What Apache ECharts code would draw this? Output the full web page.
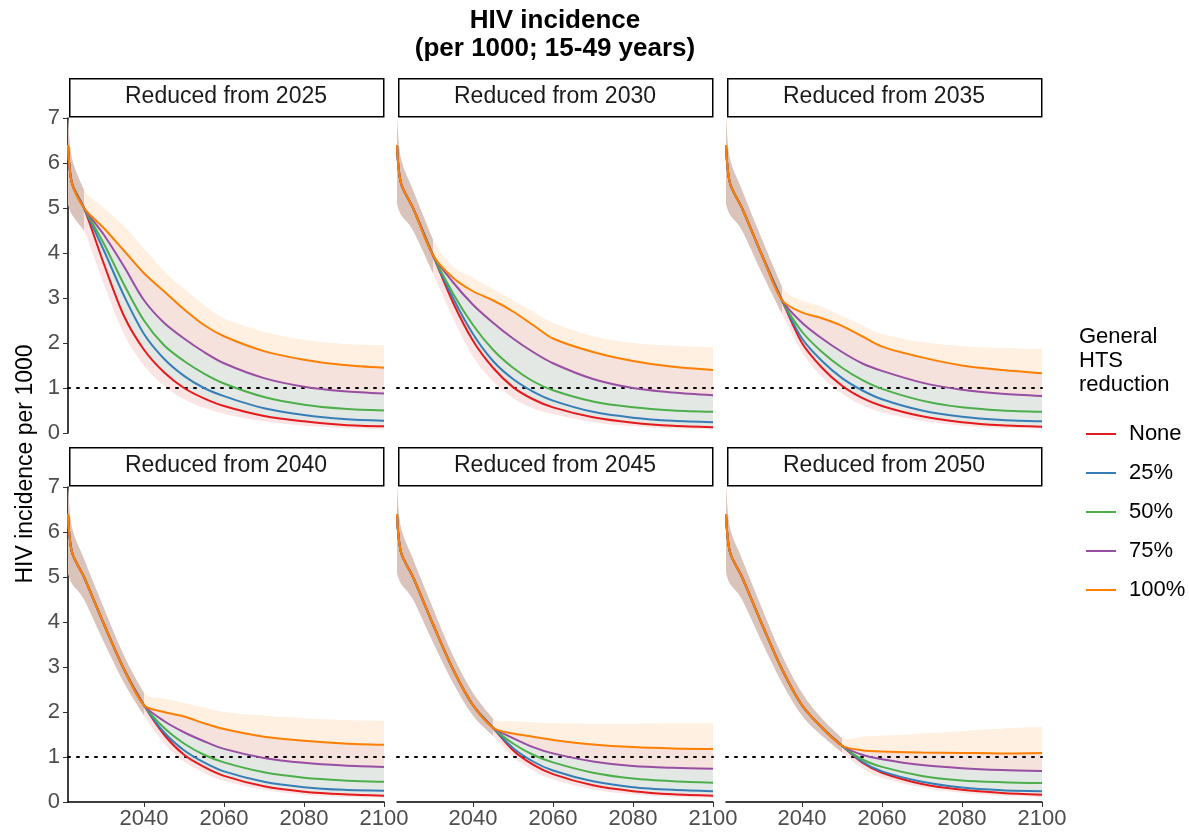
<!DOCTYPE html>
<html>
<head>
<meta charset="utf-8">
<script src="https://cdn.jsdelivr.net/npm/echarts@6/dist/echarts.min.js"></script>
<style>html,body{margin:0;padding:0;background:#fff}#main{width:1189px;height:836px}</style>
</head>
<body>
<div id="main"></div>
<script>
var years = [2021, 2022, 2025, 2030, 2035, 2040, 2045, 2050, 2055, 2060, 2070, 2080, 2090, 2100];
var scenarios = ['None', '25%', '50%', '75%', '100%'];
var colors = ['#E41A1C', '#377EB8', '#4DAF4A', '#984EA3', '#FF7F00'];
var startYears = [2025, 2030, 2035, 2040, 2045, 2050];

// shared trajectory before the reduction starts
var base = [6.4, 5.55, 5.0, 3.95, 2.95, 2.15, 1.65, 1.25];
var baseLo = [5.1, 4.85, 4.5, 3.55, 2.65, 1.92, 1.47, 1.1];
var baseHi = [7.0, 6.1, 5.4, 4.3, 3.25, 2.42, 1.85, 1.42];

// values after the reduction year: none, 25, 50, 75, 100, upper, lower
var post2025 = {
  none: [3.75, 2.6, 1.85, 1.35, 1.0, 0.77, 0.6, 0.38, 0.26, 0.18, 0.15],
  p25: [4.05, 3.05, 2.2, 1.65, 1.27, 1.0, 0.82, 0.55, 0.4, 0.31, 0.27],
  p50: [4.2, 3.3, 2.5, 1.95, 1.6, 1.32, 1.1, 0.8, 0.63, 0.54, 0.5],
  p75: [4.4, 3.7, 2.95, 2.45, 2.1, 1.8, 1.55, 1.22, 1.03, 0.93, 0.88],
  p100: [4.55, 4.05, 3.55, 3.15, 2.75, 2.4, 2.15, 1.82, 1.63, 1.51, 1.45],
  hi: [5.0, 4.6, 4.1, 3.6, 3.2, 2.85, 2.55, 2.25, 2.07, 1.98, 1.95],
  lo: [3.3, 2.2, 1.5, 1.05, 0.75, 0.56, 0.43, 0.26, 0.16, 0.11, 0.08]
};
var post2030 = {
  none: [2.9, 2.05, 1.45, 1.02, 0.75, 0.57, 0.35, 0.23, 0.16, 0.13],
  p25: [3.0, 2.2, 1.6, 1.2, 0.92, 0.72, 0.47, 0.34, 0.27, 0.24],
  p50: [3.1, 2.4, 1.85, 1.45, 1.15, 0.95, 0.7, 0.57, 0.5, 0.47],
  p75: [3.35, 2.85, 2.45, 2.1, 1.8, 1.55, 1.2, 1.0, 0.9, 0.84],
  p100: [3.45, 3.15, 2.95, 2.7, 2.4, 2.1, 1.8, 1.6, 1.47, 1.4],
  hi: [3.7, 3.45, 3.2, 2.95, 2.7, 2.45, 2.15, 2.0, 1.94, 1.91],
  lo: [2.55, 1.7, 1.15, 0.78, 0.55, 0.42, 0.24, 0.15, 0.1, 0.08]
};
var post2035 = {
  none: [2.0, 1.45, 1.05, 0.78, 0.6, 0.37, 0.24, 0.17, 0.14],
  p25: [2.1, 1.6, 1.22, 0.95, 0.75, 0.5, 0.36, 0.29, 0.26],
  p50: [2.25, 1.8, 1.45, 1.18, 0.98, 0.72, 0.57, 0.5, 0.47],
  p75: [2.45, 2.1, 1.8, 1.55, 1.38, 1.12, 0.96, 0.87, 0.82],
  p100: [2.68, 2.55, 2.38, 2.15, 1.92, 1.68, 1.5, 1.4, 1.33],
  hi: [2.95, 2.8, 2.6, 2.4, 2.2, 2.02, 1.93, 1.89, 1.87],
  lo: [1.8, 1.25, 0.88, 0.62, 0.46, 0.27, 0.16, 0.11, 0.09]
};
var post2040 = {
  none: [1.5, 1.05, 0.78, 0.58, 0.35, 0.23, 0.17, 0.14],
  p25: [1.55, 1.15, 0.88, 0.68, 0.45, 0.33, 0.27, 0.25],
  p50: [1.65, 1.3, 1.05, 0.88, 0.66, 0.54, 0.48, 0.45],
  p75: [1.8, 1.55, 1.35, 1.18, 0.98, 0.87, 0.81, 0.78],
  p100: [2.0, 1.9, 1.75, 1.62, 1.45, 1.36, 1.3, 1.27],
  hi: [2.3, 2.2, 2.1, 2.0, 1.92, 1.86, 1.82, 1.8],
  lo: [1.3, 0.9, 0.65, 0.47, 0.27, 0.16, 0.11, 0.09]
};
var post2045 = {
  none: [1.15, 0.83, 0.62, 0.37, 0.24, 0.17, 0.14],
  p25: [1.2, 0.9, 0.7, 0.46, 0.33, 0.27, 0.24],
  p50: [1.3, 1.05, 0.88, 0.65, 0.52, 0.46, 0.43],
  p75: [1.42, 1.22, 1.08, 0.9, 0.8, 0.76, 0.74],
  p100: [1.52, 1.45, 1.38, 1.28, 1.22, 1.19, 1.18],
  hi: [1.8, 1.77, 1.75, 1.74, 1.74, 1.75, 1.75],
  lo: [1.0, 0.7, 0.5, 0.28, 0.17, 0.11, 0.09]
};
var post2050 = {
  none: [0.88, 0.65, 0.4, 0.27, 0.2, 0.16],
  p25: [0.9, 0.68, 0.45, 0.32, 0.26, 0.24],
  p50: [0.95, 0.78, 0.58, 0.48, 0.44, 0.42],
  p75: [1.05, 0.95, 0.82, 0.75, 0.71, 0.69],
  p100: [1.15, 1.12, 1.1, 1.09, 1.08, 1.09],
  hi: [1.45, 1.47, 1.52, 1.58, 1.63, 1.67],
  lo: [0.75, 0.54, 0.32, 0.2, 0.14, 0.11]
};
var posts = [post2025, post2030, post2035, post2040, post2045, post2050];
var keys = ['none', 'p25', 'p50', 'p75', 'p100'];

var chart = echarts.init(document.getElementById('main'));
var FONT = 'Liberation Sans';
var gridLeft = [68, 397, 726], gridTop = [118, 487], W = 316, H = 315;
var SMOOTH = 0.3;

function full(pre, post, div) {
  return pre.slice(0, div + 1).concat(post);
}

// smooth path segment through pixel points (catmull-rom style)
function curve(pts, move) {
  var d = (move ? 'M' : 'L') + pts[0][0] + ',' + pts[0][1];
  for (var i = 0; i < pts.length - 1; i++) {
    var p0 = pts[Math.max(i - 1, 0)], p1 = pts[i], p2 = pts[i + 1], p3 = pts[Math.min(i + 2, pts.length - 1)];
    var k = 1 / 6;
    d += 'C' + (p1[0] + (p2[0] - p0[0]) * k) + ',' + (p1[1] + (p2[1] - p0[1]) * k) + ' ' +
      (p2[0] - (p3[0] - p1[0]) * k) + ',' + (p2[1] - (p3[1] - p1[1]) * k) + ' ' + p2[0] + ',' + p2[1];
  }
  return d;
}

// filled band between two value arrays
function band(idx, loArr, hiArr, color, z, upto) {
  var n = upto == null ? loArr.length : upto + 1;
  return {
    type: 'custom', xAxisIndex: idx, yAxisIndex: idx, z: z, silent: true,
    data: [0], clip: true,
    renderItem: function (params, api) {
      var lo = [], hi = [];
      for (var i = 0; i < n; i++) {
        lo.push(api.coord([years[i], loArr[i]]));
        hi.push(api.coord([years[i], hiArr[i]]));
      }
      var d = curve(hi, true) + curve(lo.reverse(), false) + 'Z';
      return { type: 'path', shape: { pathData: d }, style: { fill: color } };
    }
  };
}

var grids = [], xAxes = [], yAxes = [], series = [], graphics = [];
startYears.forEach(function (sy, p) {
  var col = p % 3, row = Math.floor(p / 3);
  var div = years.indexOf(sy);
  var post = posts[p];
  grids.push({ left: gridLeft[col], top: gridTop[row], width: W, height: H });
  xAxes.push({
    type: 'value', gridIndex: p, min: 2021, max: 2100,
    axisLine: { show: row === 1, lineStyle: { color: '#000', width: 1.5 } },
    axisTick: { show: row === 1, length: 5, lineStyle: { color: '#333' }, customValues: [2040, 2060, 2080, 2100] },
    axisLabel: {
      show: row === 1, fontSize: 22, color: '#4d4d4d', fontFamily: FONT, margin: 6,
      customValues: [2040, 2060, 2080, 2100], formatter: function (v) { return String(v); }
    },
    splitLine: { show: false }
  });
  yAxes.push({
    type: 'value', gridIndex: p, min: 0, max: 7, interval: 1,
    axisLine: { show: col === 0, lineStyle: { color: '#000', width: 1.5 } },
    axisTick: { show: col === 0, length: 5, lineStyle: { color: '#333' } },
    axisLabel: { show: col === 0, fontSize: 22, color: '#4d4d4d', fontFamily: FONT, margin: 8 },
    splitLine: { show: false }
  });
  var lines = keys.map(function (k) { return full(base, post[k], div); });
  var hi = full(baseHi, post.hi, div), lo = full(baseLo, post.lo, div);
  series.push(band(p, lo, lines[0], '#fbe4e4', 1));
  series.push(band(p, lines[0], lines[3], '#e4e8e5', 1));
  series.push(band(p, lines[3], lines[4], '#f5e2dc', 1));
  series.push(band(p, lines[4], hi, '#fff0e2', 1));
  series.push(band(p, lo, hi, '#d9c3bb', 2, div));
  keys.forEach(function (k, i) {
    var s = {
      type: 'line', name: scenarios[i], xAxisIndex: p, yAxisIndex: p, z: 5,
      data: lines[i].map(function (v, j) { return [years[j], v]; }),
      smooth: SMOOTH, symbol: 'none',
      lineStyle: { color: colors[i], width: 2 }, itemStyle: { color: colors[i] }
    };
    if (i === 0) {
      s.markLine = {
        silent: true, symbol: 'none', label: { show: false },
        lineStyle: { type: [2, 7], color: '#000', width: 2, cap: 'round' },
        data: [{ yAxis: 1 }]
      };
    }
    series.push(s);
  });
  graphics.push({
    type: 'rect', left: gridLeft[col] + 1, top: gridTop[row] - 40, z: 10,
    shape: { width: W - 2, height: 38 },
    style: { fill: '#fff', stroke: '#000', lineWidth: 1.5 }
  });
  graphics.push({
    type: 'text', x: gridLeft[col] + W / 2, y: gridTop[row] - 21, z: 11,
    style: { text: 'Reduced from ' + sy, fontSize: 23, fontFamily: FONT, fill: '#1a1a1a', align: 'center', verticalAlign: 'middle' }
  });
});

graphics.push({
  type: 'text', x: 555, y: 35, z: 11,
  style: { text: 'HIV incidence\n(per 1000; 15-49 years)', fontSize: 26, fontWeight: 'bold', fontFamily: FONT, fill: '#000', align: 'center', verticalAlign: 'middle', lineHeight: 28 }
});
graphics.push({
  type: 'text', x: 26, y: 464, rotation: Math.PI / 2, z: 11,
  style: { text: 'HIV incidence per 1000', fontSize: 23, fontFamily: FONT, fill: '#000', align: 'center', verticalAlign: 'middle' }
});
graphics.push({
  type: 'text', x: 1079, y: 325, z: 11,
  style: { text: 'General\nHTS\nreduction', fontSize: 22, fontFamily: FONT, fill: '#000', lineHeight: 24 }
});

var option = {
  animation: false,
  backgroundColor: '#fff',
  grid: grids, xAxis: xAxes, yAxis: yAxes, series: series, graphic: graphics,
  legend: {
    data: scenarios, orient: 'vertical', left: 1081, top: 418,
    icon: 'rect', itemWidth: 30, itemHeight: 2, itemGap: 17,
    textStyle: { fontSize: 22, fontFamily: FONT, color: '#000', padding: [0, 0, 0, 8] }
  }
};
chart.setOption(option);
</script>
</body>
</html>
